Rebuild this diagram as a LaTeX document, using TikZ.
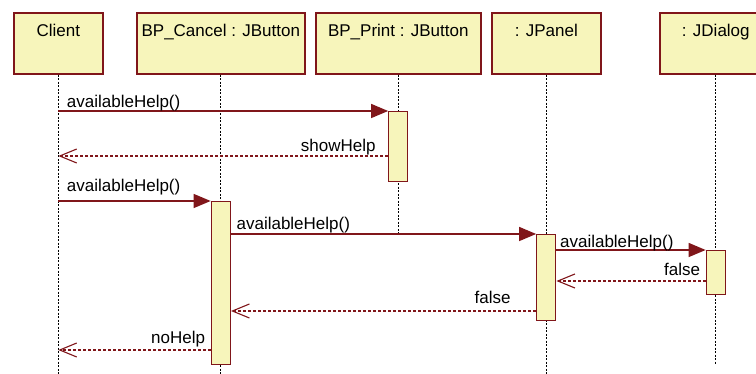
\documentclass[tikz,border=0pt]{standalone}
\usepackage{fontspec}
\setmainfont{Liberation Sans}
\usetikzlibrary{arrows.meta}
\definecolor{umlred}{RGB}{128, 22, 26}
\definecolor{umlyellow}{RGB}{247, 245, 187}

\begin{document}
\begin{tikzpicture}[x=1pt, y=-1pt,
    font=\fontsize{17}{20}\selectfont,
    head/.style={draw=umlred, line width=1.6pt, fill=umlyellow, anchor=north west,
        inner xsep=0pt, inner ysep=4pt, text height=20pt, text depth=33pt},
    act/.style={draw=umlred, line width=1.3pt, fill=umlyellow, anchor=north,
        minimum width=19pt, inner sep=0pt},
    lifeline/.style={line width=0.9pt, dash pattern=on 2pt off 1.5pt},
    call/.style={draw=umlred, line width=1.3pt, -{Triangle[length=17pt, width=14pt]}},
    reply/.style={draw=umlred, line width=1.1pt, dash pattern=on 3pt off 2pt,
        -{Straight Barb[length=17pt, width=14pt]}},
    lbl/.style={pos=0, inner sep=0pt}]
    \useasboundingbox (0,0) rectangle (756,374);
    % object heads
    \node[head, minimum width=89pt]  (client) at (13,12)  {Client};
    \node[head, minimum width=168pt] (cancel) at (136,12) {BP\_Cancel : JButton};
    \node[head, minimum width=165pt] (print)  at (315,12) {BP\_Print : JButton};
    \node[head, minimum width=109pt] (panel)  at (491,12) {: JPanel};
    \node[head, minimum width=112pt] (dialog) at (659,12) {: JDialog};
    \coordinate (bottom) at (0,375);
    % lifelines
    \draw[lifeline] (client.south) -- (client.south |- bottom);
    \draw[lifeline] (cancel.south) -- (cancel.south |- bottom);
    \draw[lifeline] (print.south)  -- (print.south |- 0,234);
    \draw[lifeline] (panel.south)  -- (panel.south |- bottom);
    \draw[lifeline] (dialog.south) -- (dialog.south |- 0,364);
    % activations
    \node[act, minimum height=70pt]  (actPrint)  at (print.south |- 0,111)  {};
    \node[act, minimum height=163pt] (actCancel) at (cancel.south |- 0,201) {};
    \node[act, minimum height=86pt]  (actPanel)  at (panel.south |- 0,234)  {};
    \node[act, minimum height=44pt]  (actDialog) at (dialog.south |- 0,250) {};
    % calls
    \draw[call] (actPrint.north west -| client.south) -- (actPrint.north west)
        node[lbl, anchor=base west, xshift=8pt, yshift=3pt] {availableHelp()};
    \draw[call] (actCancel.north west -| client.south) -- (actCancel.north west)
        node[lbl, anchor=base west, xshift=8pt, yshift=9pt] {availableHelp()};
    \draw[call] (actPanel.north west -| actCancel.east) -- (actPanel.north west)
        node[lbl, anchor=base west, xshift=5pt, yshift=4pt] {availableHelp()};
    \draw[call] (actDialog.north west -| actPanel.east) -- (actDialog.north west)
        node[lbl, anchor=base west, xshift=3pt, yshift=2pt] {availableHelp()};
    % replies
    \coordinate (r1) at ([yshift=-45pt]actPrint.north west);
    \coordinate (r2) at ([yshift=-31pt]actDialog.north west);
    \coordinate (r3) at ([yshift=-77pt]actPanel.north west);
    \coordinate (r4) at ([yshift=-149pt]actCancel.north west);
    \draw[reply] (r1) -- (r1 -| client.south)
        node[lbl, anchor=base east, xshift=-12pt, yshift=4pt] {showHelp};
    \draw[reply] (r2) -- (r2 -| actPanel.east)
        node[lbl, anchor=base east, xshift=-5pt, yshift=5pt] {false};
    \draw[reply] (r3) -- (r3 -| actCancel.east)
        node[lbl, anchor=base east, xshift=-25pt, yshift=7pt] {false};
    \draw[reply] (r4) -- (r4 -| client.south)
        node[lbl, anchor=base east, xshift=-5pt, yshift=6pt] {noHelp};
\end{tikzpicture}
\end{document}
